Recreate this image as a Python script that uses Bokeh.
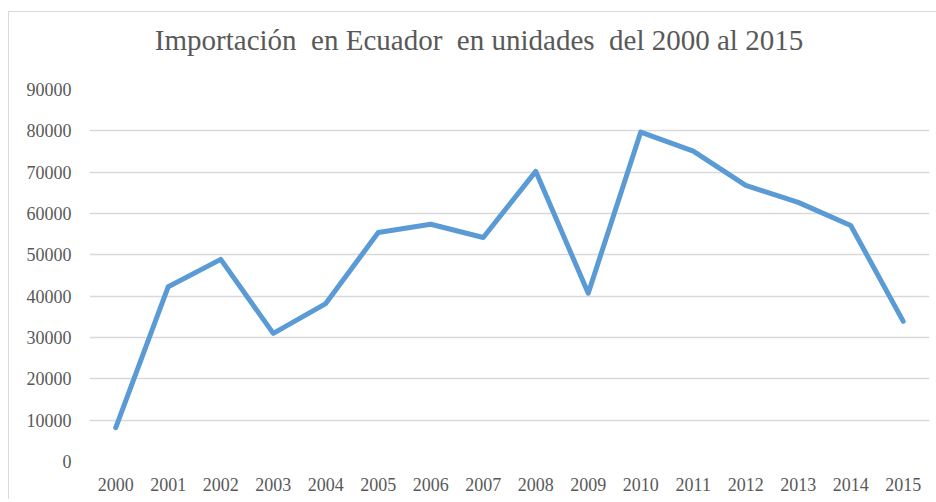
from bokeh.plotting import figure
from bokeh.models import ColumnDataSource, Range1d, SingleIntervalTicker, NumeralTickFormatter, Div
from bokeh.layouts import column
from bokeh.embed import file_html
from bokeh.resources import INLINE

years = ["2000", "2001", "2002", "2003", "2004", "2005", "2006", "2007",
         "2008", "2009", "2010", "2011", "2012", "2013", "2014", "2015"]
unidades = [8200, 42300, 48900, 31000, 38200, 55400, 57400, 54200,
            70200, 40700, 79700, 75100, 66800, 62700, 57100, 33900]
title_text = "Importación  en Ecuador  en unidades  del 2000 al 2015"

source = ColumnDataSource(data=dict(year=years, value=unidades))

title_div = Div(
    text=('<div style="width:926px; box-sizing:border-box; font-family:\'Liberation Serif\'; '
          'font-size:29px; color:#595959; text-align:center; padding-top:9px; padding-left:4px; '
          'line-height:29px; white-space:pre;">' + title_text + '</div>'),
    width=926, height=57)

p = figure(x_range=years, y_range=Range1d(0, 90000), width=926, height=420,
           output_backend="svg", toolbar_location=None,
           min_border_left=80, min_border_right=6, min_border_top=10, min_border_bottom=38)

p.line(x="year", y="value", source=source, line_color="#5B9BD5", line_width=5,
       line_join="round", line_cap="round")

p.outline_line_color = None
p.background_fill_color = "white"
p.border_fill_color = "white"

p.xgrid.grid_line_color = None
p.ygrid.grid_line_color = "#d9d9d9"
p.ygrid.grid_line_width = 1.3
p.yaxis.ticker = SingleIntervalTicker(interval=10000)
p.yaxis.formatter = NumeralTickFormatter(format="0")

for ax in (p.xaxis[0], p.yaxis[0]):
    ax.axis_line_color = None
    ax.major_tick_line_color = None
    ax.minor_tick_line_color = None
    ax.major_tick_out = 0
    ax.major_tick_in = 0
    ax.minor_tick_out = 0
    ax.major_label_text_font = "Liberation Serif"
    ax.major_label_text_font_size = "18px"
    ax.major_label_text_color = "#595959"

p.xaxis.major_label_standoff = 16
p.yaxis.major_label_standoff = 18

layout = column(title_div, p, spacing=0,
                styles={"margin-left": "8px", "margin-top": "11px",
                        "border-left": "1px solid #d9d9d9", "border-top": "1px solid #d9d9d9",
                        "background-color": "white"})

open("out.html", "w").write(file_html(layout, INLINE))
